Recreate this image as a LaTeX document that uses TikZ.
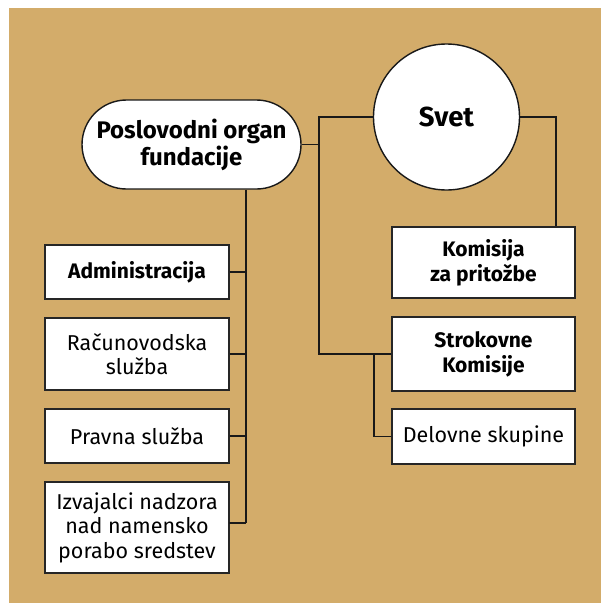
\documentclass[tikz,border=0pt]{standalone}
\usepackage{fontspec}
\setmainfont{Fira Sans}
\begin{document}
\begin{tikzpicture}[x=1pt,y=-1pt,
  line/.style={draw=black!90,line width=1.3pt},
  box/.style={draw=black!85,line width=1.4pt,fill=white,rectangle,inner sep=0pt,
    minimum width=184pt,align=center,font=\fontsize{21.5}{24.5}\selectfont},
  boldbox/.style={box,font=\fontsize{21}{25}\selectfont\bfseries},
]
\definecolor{tan}{RGB}{211,172,106}
\useasboundingbox (0,0) rectangle (601,603);
\fill[tan] (9,8) rectangle (601,603);

% top nodes
\node[draw=black!90,line width=1.4pt,fill=white,rectangle,rounded corners=44.5pt,
  minimum width=219pt,minimum height=89pt,inner sep=0pt,align=center,
  font=\fontsize{24}{27}\selectfont\bfseries] (pill) at (191.5,144.5) {Poslovodni organ\\fundacije};
\node[draw=black!90,line width=1.4pt,fill=white,circle,minimum size=146pt,inner sep=0pt,
  font=\fontsize{27.5}{30}\selectfont\bfseries] (svet) at (446.5,117) {Svet};

% left column
\node[boldbox,minimum height=54pt] (adm) at (137,272) {Administracija};
\node[box,minimum height=72pt] (rac) at (137,354) {Računovodska\\služba};
\node[box,minimum height=54pt] (prav) at (137,436) {Pravna služba};
\node[box,minimum height=91pt] (izv) at (137,527.5) {Izvajalci nadzora\\nad namensko\\porabo sredstev};

% right column
\node[boldbox,minimum width=183pt,minimum height=71pt] (kom) at (483.5,262.5) {Komisija\\za pritožbe};
\node[boldbox,minimum width=183pt,minimum height=74pt] (strok) at (483.5,354) {Strokovne\\Komisije};
\node[box,minimum width=183pt,minimum height=55pt] (delov) at (483.5,436.5) {Delovne skupine};

% bus coordinates
\coordinate (lbus) at (246,0);
\coordinate (rbusT) at (319,117);
\coordinate (rbusB) at (319,354);
\coordinate (sbus) at (374,354);
\coordinate (kx) at (556,0);
\coordinate (izvc) at (229,523);

% connectors left
\draw[line] (lbus |- pill.south) -- (lbus |- izvc);
\draw[line] (adm.east) -- (adm.east -| lbus);
\draw[line] (rac.east) -- (rac.east -| lbus);
\draw[line] (prav.east) -- (prav.east -| lbus);
\draw[line] (izvc) -- (izvc -| lbus);

% connectors right
\draw[line] (pill.east) -- (pill.east -| rbusT);
\draw[line] (svet.west) -- (rbusT) -- (rbusB) -- (strok.west);
\draw[line] (sbus) |- (delov.west);
\draw[line] (svet.east) -| (kx |- kom.north);
\end{tikzpicture}
\end{document}
